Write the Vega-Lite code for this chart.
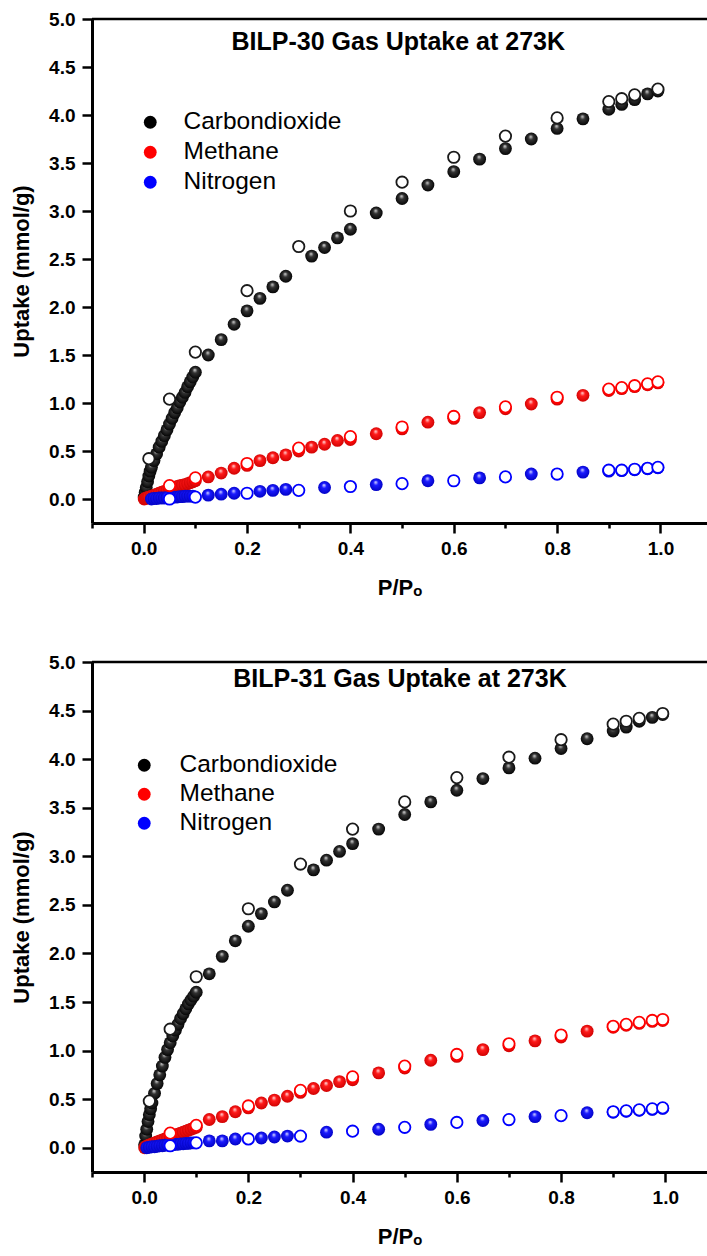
{
  "$schema": "https://vega.github.io/schema/vega-lite/v6.json",
  "background": "white",
  "padding": {"left": 10, "top": 10, "right": 0, "bottom": 0},
  "autosize": {"type": "pad"},
  "config": {
    "view": {"stroke": null},
    "font": "Liberation Sans",
    "axis": {"domainColor": "black", "domainWidth": 3, "tickColor": "black", "tickWidth": 2.5, "labelColor": "black", "labelFont": "Liberation Sans", "labelFontWeight": "bold", "titleFont": "Liberation Sans", "titleFontWeight": "bold", "titleColor": "black", "titleFontSize": 22, "grid": false, "labelFlush": false, "labelOverlap": false},
    "axisX": {"values": [-0.1, 0, 0.1, 0.2, 0.3, 0.4, 0.5, 0.6, 0.7, 0.8, 0.9, 1.0], "labelExpr": "(round(datum.value*10) % 2 == 0 && datum.value >= 0) ? format(datum.value, '.1f') : ''", "tickSize": {"condition": {"test": "round(datum.value*10) % 2 == 0", "value": 10}, "value": 5}, "labelFontSize": 19, "labelPadding": 6, "titlePadding": 19},
    "axisY": {"values": [0, 0.25, 0.5, 0.75, 1, 1.25, 1.5, 1.75, 2, 2.25, 2.5, 2.75, 3, 3.25, 3.5, 3.75, 4, 4.25, 4.5, 4.75, 5], "labelExpr": "round(datum.value*4) % 2 == 0 ? format(datum.value, '.1f') : ''", "tickSize": {"condition": {"test": "round(datum.value*4) % 2 == 0", "value": 10}, "value": 5}, "labelFontSize": 19, "labelPadding": 7, "titlePadding": 15}
  },
  "spacing": 55,
  "resolve": {"scale": {"color": "independent"}},
  "data": {"values": [
    {"s":"BILP-30","g":"Carbondioxide","t":"ads","p":0.001,"u":0.02},
    {"s":"BILP-30","g":"Carbondioxide","t":"ads","p":0.003,"u":0.07},
    {"s":"BILP-30","g":"Carbondioxide","t":"ads","p":0.005,"u":0.12},
    {"s":"BILP-30","g":"Carbondioxide","t":"ads","p":0.0075,"u":0.18},
    {"s":"BILP-30","g":"Carbondioxide","t":"ads","p":0.01,"u":0.24},
    {"s":"BILP-30","g":"Carbondioxide","t":"ads","p":0.0125,"u":0.29},
    {"s":"BILP-30","g":"Carbondioxide","t":"ads","p":0.015,"u":0.33},
    {"s":"BILP-30","g":"Carbondioxide","t":"ads","p":0.02,"u":0.40},
    {"s":"BILP-30","g":"Carbondioxide","t":"ads","p":0.025,"u":0.47},
    {"s":"BILP-30","g":"Carbondioxide","t":"ads","p":0.03,"u":0.54},
    {"s":"BILP-30","g":"Carbondioxide","t":"ads","p":0.035,"u":0.60},
    {"s":"BILP-30","g":"Carbondioxide","t":"ads","p":0.04,"u":0.66},
    {"s":"BILP-30","g":"Carbondioxide","t":"ads","p":0.045,"u":0.72},
    {"s":"BILP-30","g":"Carbondioxide","t":"ads","p":0.05,"u":0.78},
    {"s":"BILP-30","g":"Carbondioxide","t":"ads","p":0.055,"u":0.84},
    {"s":"BILP-30","g":"Carbondioxide","t":"ads","p":0.06,"u":0.90},
    {"s":"BILP-30","g":"Carbondioxide","t":"ads","p":0.065,"u":0.95},
    {"s":"BILP-30","g":"Carbondioxide","t":"ads","p":0.07,"u":1.01},
    {"s":"BILP-30","g":"Carbondioxide","t":"ads","p":0.075,"u":1.06},
    {"s":"BILP-30","g":"Carbondioxide","t":"ads","p":0.08,"u":1.11},
    {"s":"BILP-30","g":"Carbondioxide","t":"ads","p":0.085,"u":1.17},
    {"s":"BILP-30","g":"Carbondioxide","t":"ads","p":0.09,"u":1.22},
    {"s":"BILP-30","g":"Carbondioxide","t":"ads","p":0.095,"u":1.27},
    {"s":"BILP-30","g":"Carbondioxide","t":"ads","p":0.1,"u":1.32},
    {"s":"BILP-30","g":"Carbondioxide","t":"ads","p":0.125,"u":1.50},
    {"s":"BILP-30","g":"Carbondioxide","t":"ads","p":0.15,"u":1.66},
    {"s":"BILP-30","g":"Carbondioxide","t":"ads","p":0.175,"u":1.82},
    {"s":"BILP-30","g":"Carbondioxide","t":"ads","p":0.2,"u":1.96},
    {"s":"BILP-30","g":"Carbondioxide","t":"ads","p":0.225,"u":2.09},
    {"s":"BILP-30","g":"Carbondioxide","t":"ads","p":0.25,"u":2.21},
    {"s":"BILP-30","g":"Carbondioxide","t":"ads","p":0.275,"u":2.32},
    {"s":"BILP-30","g":"Carbondioxide","t":"ads","p":0.325,"u":2.53},
    {"s":"BILP-30","g":"Carbondioxide","t":"ads","p":0.35,"u":2.62},
    {"s":"BILP-30","g":"Carbondioxide","t":"ads","p":0.375,"u":2.72},
    {"s":"BILP-30","g":"Carbondioxide","t":"ads","p":0.4,"u":2.81},
    {"s":"BILP-30","g":"Carbondioxide","t":"ads","p":0.45,"u":2.98},
    {"s":"BILP-30","g":"Carbondioxide","t":"ads","p":0.5,"u":3.13},
    {"s":"BILP-30","g":"Carbondioxide","t":"ads","p":0.55,"u":3.27},
    {"s":"BILP-30","g":"Carbondioxide","t":"ads","p":0.6,"u":3.41},
    {"s":"BILP-30","g":"Carbondioxide","t":"ads","p":0.65,"u":3.54},
    {"s":"BILP-30","g":"Carbondioxide","t":"ads","p":0.7,"u":3.65},
    {"s":"BILP-30","g":"Carbondioxide","t":"ads","p":0.75,"u":3.75},
    {"s":"BILP-30","g":"Carbondioxide","t":"ads","p":0.8,"u":3.86},
    {"s":"BILP-30","g":"Carbondioxide","t":"ads","p":0.85,"u":3.96},
    {"s":"BILP-30","g":"Carbondioxide","t":"ads","p":0.9,"u":4.06},
    {"s":"BILP-30","g":"Carbondioxide","t":"ads","p":0.925,"u":4.11},
    {"s":"BILP-30","g":"Carbondioxide","t":"ads","p":0.95,"u":4.16},
    {"s":"BILP-30","g":"Carbondioxide","t":"ads","p":0.975,"u":4.22},
    {"s":"BILP-30","g":"Carbondioxide","t":"ads","p":0.995,"u":4.25},
    {"s":"BILP-30","g":"Carbondioxide","t":"des","p":0.01,"u":0.42},
    {"s":"BILP-30","g":"Carbondioxide","t":"des","p":0.05,"u":1.04},
    {"s":"BILP-30","g":"Carbondioxide","t":"des","p":0.1,"u":1.53},
    {"s":"BILP-30","g":"Carbondioxide","t":"des","p":0.2,"u":2.17},
    {"s":"BILP-30","g":"Carbondioxide","t":"des","p":0.3,"u":2.63},
    {"s":"BILP-30","g":"Carbondioxide","t":"des","p":0.4,"u":3.00},
    {"s":"BILP-30","g":"Carbondioxide","t":"des","p":0.5,"u":3.30},
    {"s":"BILP-30","g":"Carbondioxide","t":"des","p":0.6,"u":3.56},
    {"s":"BILP-30","g":"Carbondioxide","t":"des","p":0.7,"u":3.78},
    {"s":"BILP-30","g":"Carbondioxide","t":"des","p":0.8,"u":3.97},
    {"s":"BILP-30","g":"Carbondioxide","t":"des","p":0.9,"u":4.14},
    {"s":"BILP-30","g":"Carbondioxide","t":"des","p":0.925,"u":4.17},
    {"s":"BILP-30","g":"Carbondioxide","t":"des","p":0.95,"u":4.21},
    {"s":"BILP-30","g":"Carbondioxide","t":"des","p":0.995,"u":4.27},
    {"s":"BILP-30","g":"Methane","t":"ads","p":0.001,"u":0.0},
    {"s":"BILP-30","g":"Methane","t":"ads","p":0.003,"u":0.005},
    {"s":"BILP-30","g":"Methane","t":"ads","p":0.005,"u":0.01},
    {"s":"BILP-30","g":"Methane","t":"ads","p":0.0075,"u":0.015},
    {"s":"BILP-30","g":"Methane","t":"ads","p":0.01,"u":0.02},
    {"s":"BILP-30","g":"Methane","t":"ads","p":0.015,"u":0.03},
    {"s":"BILP-30","g":"Methane","t":"ads","p":0.02,"u":0.04},
    {"s":"BILP-30","g":"Methane","t":"ads","p":0.025,"u":0.05},
    {"s":"BILP-30","g":"Methane","t":"ads","p":0.03,"u":0.06},
    {"s":"BILP-30","g":"Methane","t":"ads","p":0.035,"u":0.07},
    {"s":"BILP-30","g":"Methane","t":"ads","p":0.04,"u":0.08},
    {"s":"BILP-30","g":"Methane","t":"ads","p":0.045,"u":0.09},
    {"s":"BILP-30","g":"Methane","t":"ads","p":0.05,"u":0.10},
    {"s":"BILP-30","g":"Methane","t":"ads","p":0.055,"u":0.11},
    {"s":"BILP-30","g":"Methane","t":"ads","p":0.06,"u":0.12},
    {"s":"BILP-30","g":"Methane","t":"ads","p":0.065,"u":0.13},
    {"s":"BILP-30","g":"Methane","t":"ads","p":0.07,"u":0.14},
    {"s":"BILP-30","g":"Methane","t":"ads","p":0.075,"u":0.145},
    {"s":"BILP-30","g":"Methane","t":"ads","p":0.08,"u":0.15},
    {"s":"BILP-30","g":"Methane","t":"ads","p":0.085,"u":0.16},
    {"s":"BILP-30","g":"Methane","t":"ads","p":0.09,"u":0.17},
    {"s":"BILP-30","g":"Methane","t":"ads","p":0.095,"u":0.18},
    {"s":"BILP-30","g":"Methane","t":"ads","p":0.1,"u":0.19},
    {"s":"BILP-30","g":"Methane","t":"ads","p":0.125,"u":0.23},
    {"s":"BILP-30","g":"Methane","t":"ads","p":0.15,"u":0.27},
    {"s":"BILP-30","g":"Methane","t":"ads","p":0.175,"u":0.32},
    {"s":"BILP-30","g":"Methane","t":"ads","p":0.2,"u":0.35},
    {"s":"BILP-30","g":"Methane","t":"ads","p":0.225,"u":0.40},
    {"s":"BILP-30","g":"Methane","t":"ads","p":0.25,"u":0.43},
    {"s":"BILP-30","g":"Methane","t":"ads","p":0.275,"u":0.46},
    {"s":"BILP-30","g":"Methane","t":"ads","p":0.3,"u":0.50},
    {"s":"BILP-30","g":"Methane","t":"ads","p":0.325,"u":0.54},
    {"s":"BILP-30","g":"Methane","t":"ads","p":0.35,"u":0.57},
    {"s":"BILP-30","g":"Methane","t":"ads","p":0.375,"u":0.61},
    {"s":"BILP-30","g":"Methane","t":"ads","p":0.4,"u":0.62},
    {"s":"BILP-30","g":"Methane","t":"ads","p":0.45,"u":0.68},
    {"s":"BILP-30","g":"Methane","t":"ads","p":0.5,"u":0.73},
    {"s":"BILP-30","g":"Methane","t":"ads","p":0.55,"u":0.80},
    {"s":"BILP-30","g":"Methane","t":"ads","p":0.6,"u":0.84},
    {"s":"BILP-30","g":"Methane","t":"ads","p":0.65,"u":0.90},
    {"s":"BILP-30","g":"Methane","t":"ads","p":0.7,"u":0.94},
    {"s":"BILP-30","g":"Methane","t":"ads","p":0.75,"u":0.99},
    {"s":"BILP-30","g":"Methane","t":"ads","p":0.8,"u":1.04},
    {"s":"BILP-30","g":"Methane","t":"ads","p":0.85,"u":1.08},
    {"s":"BILP-30","g":"Methane","t":"ads","p":0.9,"u":1.13},
    {"s":"BILP-30","g":"Methane","t":"ads","p":0.925,"u":1.15},
    {"s":"BILP-30","g":"Methane","t":"ads","p":0.95,"u":1.17},
    {"s":"BILP-30","g":"Methane","t":"ads","p":0.975,"u":1.19},
    {"s":"BILP-30","g":"Methane","t":"ads","p":0.995,"u":1.21},
    {"s":"BILP-30","g":"Methane","t":"des","p":0.05,"u":0.14},
    {"s":"BILP-30","g":"Methane","t":"des","p":0.1,"u":0.22},
    {"s":"BILP-30","g":"Methane","t":"des","p":0.2,"u":0.37},
    {"s":"BILP-30","g":"Methane","t":"des","p":0.3,"u":0.53},
    {"s":"BILP-30","g":"Methane","t":"des","p":0.4,"u":0.65},
    {"s":"BILP-30","g":"Methane","t":"des","p":0.5,"u":0.75},
    {"s":"BILP-30","g":"Methane","t":"des","p":0.6,"u":0.86},
    {"s":"BILP-30","g":"Methane","t":"des","p":0.7,"u":0.96},
    {"s":"BILP-30","g":"Methane","t":"des","p":0.8,"u":1.06},
    {"s":"BILP-30","g":"Methane","t":"des","p":0.9,"u":1.145},
    {"s":"BILP-30","g":"Methane","t":"des","p":0.925,"u":1.16},
    {"s":"BILP-30","g":"Methane","t":"des","p":0.95,"u":1.18},
    {"s":"BILP-30","g":"Methane","t":"des","p":0.975,"u":1.20},
    {"s":"BILP-30","g":"Methane","t":"des","p":0.995,"u":1.22},
    {"s":"BILP-30","g":"Nitrogen","t":"ads","p":0.015,"u":0.0},
    {"s":"BILP-30","g":"Nitrogen","t":"ads","p":0.02,"u":0.005},
    {"s":"BILP-30","g":"Nitrogen","t":"ads","p":0.025,"u":0.005},
    {"s":"BILP-30","g":"Nitrogen","t":"ads","p":0.03,"u":0.01},
    {"s":"BILP-30","g":"Nitrogen","t":"ads","p":0.035,"u":0.01},
    {"s":"BILP-30","g":"Nitrogen","t":"ads","p":0.04,"u":0.01},
    {"s":"BILP-30","g":"Nitrogen","t":"ads","p":0.045,"u":0.015},
    {"s":"BILP-30","g":"Nitrogen","t":"ads","p":0.055,"u":0.02},
    {"s":"BILP-30","g":"Nitrogen","t":"ads","p":0.06,"u":0.02},
    {"s":"BILP-30","g":"Nitrogen","t":"ads","p":0.065,"u":0.02},
    {"s":"BILP-30","g":"Nitrogen","t":"ads","p":0.07,"u":0.025},
    {"s":"BILP-30","g":"Nitrogen","t":"ads","p":0.075,"u":0.025},
    {"s":"BILP-30","g":"Nitrogen","t":"ads","p":0.08,"u":0.03},
    {"s":"BILP-30","g":"Nitrogen","t":"ads","p":0.085,"u":0.03},
    {"s":"BILP-30","g":"Nitrogen","t":"ads","p":0.09,"u":0.03},
    {"s":"BILP-30","g":"Nitrogen","t":"ads","p":0.095,"u":0.03},
    {"s":"BILP-30","g":"Nitrogen","t":"ads","p":0.125,"u":0.04},
    {"s":"BILP-30","g":"Nitrogen","t":"ads","p":0.15,"u":0.05},
    {"s":"BILP-30","g":"Nitrogen","t":"ads","p":0.175,"u":0.06},
    {"s":"BILP-30","g":"Nitrogen","t":"ads","p":0.225,"u":0.08},
    {"s":"BILP-30","g":"Nitrogen","t":"ads","p":0.25,"u":0.09},
    {"s":"BILP-30","g":"Nitrogen","t":"ads","p":0.275,"u":0.10},
    {"s":"BILP-30","g":"Nitrogen","t":"ads","p":0.35,"u":0.12},
    {"s":"BILP-30","g":"Nitrogen","t":"ads","p":0.45,"u":0.15},
    {"s":"BILP-30","g":"Nitrogen","t":"ads","p":0.55,"u":0.19},
    {"s":"BILP-30","g":"Nitrogen","t":"ads","p":0.65,"u":0.22},
    {"s":"BILP-30","g":"Nitrogen","t":"ads","p":0.75,"u":0.26},
    {"s":"BILP-30","g":"Nitrogen","t":"ads","p":0.85,"u":0.28},
    {"s":"BILP-30","g":"Nitrogen","t":"ads","p":0.9,"u":0.29},
    {"s":"BILP-30","g":"Nitrogen","t":"ads","p":0.925,"u":0.295},
    {"s":"BILP-30","g":"Nitrogen","t":"ads","p":0.95,"u":0.305},
    {"s":"BILP-30","g":"Nitrogen","t":"ads","p":0.975,"u":0.315},
    {"s":"BILP-30","g":"Nitrogen","t":"ads","p":0.995,"u":0.325},
    {"s":"BILP-30","g":"Nitrogen","t":"des","p":0.05,"u":0.0},
    {"s":"BILP-30","g":"Nitrogen","t":"des","p":0.1,"u":0.02},
    {"s":"BILP-30","g":"Nitrogen","t":"des","p":0.2,"u":0.06},
    {"s":"BILP-30","g":"Nitrogen","t":"des","p":0.3,"u":0.09},
    {"s":"BILP-30","g":"Nitrogen","t":"des","p":0.4,"u":0.13},
    {"s":"BILP-30","g":"Nitrogen","t":"des","p":0.5,"u":0.16},
    {"s":"BILP-30","g":"Nitrogen","t":"des","p":0.6,"u":0.19},
    {"s":"BILP-30","g":"Nitrogen","t":"des","p":0.7,"u":0.23},
    {"s":"BILP-30","g":"Nitrogen","t":"des","p":0.8,"u":0.26},
    {"s":"BILP-30","g":"Nitrogen","t":"des","p":0.9,"u":0.30},
    {"s":"BILP-30","g":"Nitrogen","t":"des","p":0.925,"u":0.30},
    {"s":"BILP-30","g":"Nitrogen","t":"des","p":0.95,"u":0.31},
    {"s":"BILP-30","g":"Nitrogen","t":"des","p":0.975,"u":0.32},
    {"s":"BILP-30","g":"Nitrogen","t":"des","p":0.995,"u":0.33},
    {"s":"BILP-31","g":"Carbondioxide","t":"ads","p":0.001,"u":0.03},
    {"s":"BILP-31","g":"Carbondioxide","t":"ads","p":0.003,"u":0.12},
    {"s":"BILP-31","g":"Carbondioxide","t":"ads","p":0.005,"u":0.19},
    {"s":"BILP-31","g":"Carbondioxide","t":"ads","p":0.0075,"u":0.27},
    {"s":"BILP-31","g":"Carbondioxide","t":"ads","p":0.01,"u":0.34},
    {"s":"BILP-31","g":"Carbondioxide","t":"ads","p":0.0125,"u":0.40},
    {"s":"BILP-31","g":"Carbondioxide","t":"ads","p":0.015,"u":0.46},
    {"s":"BILP-31","g":"Carbondioxide","t":"ads","p":0.02,"u":0.56},
    {"s":"BILP-31","g":"Carbondioxide","t":"ads","p":0.025,"u":0.66},
    {"s":"BILP-31","g":"Carbondioxide","t":"ads","p":0.03,"u":0.75},
    {"s":"BILP-31","g":"Carbondioxide","t":"ads","p":0.035,"u":0.84},
    {"s":"BILP-31","g":"Carbondioxide","t":"ads","p":0.04,"u":0.93},
    {"s":"BILP-31","g":"Carbondioxide","t":"ads","p":0.045,"u":1.01},
    {"s":"BILP-31","g":"Carbondioxide","t":"ads","p":0.05,"u":1.08},
    {"s":"BILP-31","g":"Carbondioxide","t":"ads","p":0.055,"u":1.15},
    {"s":"BILP-31","g":"Carbondioxide","t":"ads","p":0.06,"u":1.21},
    {"s":"BILP-31","g":"Carbondioxide","t":"ads","p":0.065,"u":1.27},
    {"s":"BILP-31","g":"Carbondioxide","t":"ads","p":0.07,"u":1.33},
    {"s":"BILP-31","g":"Carbondioxide","t":"ads","p":0.075,"u":1.38},
    {"s":"BILP-31","g":"Carbondioxide","t":"ads","p":0.08,"u":1.43},
    {"s":"BILP-31","g":"Carbondioxide","t":"ads","p":0.085,"u":1.48},
    {"s":"BILP-31","g":"Carbondioxide","t":"ads","p":0.09,"u":1.52},
    {"s":"BILP-31","g":"Carbondioxide","t":"ads","p":0.095,"u":1.56},
    {"s":"BILP-31","g":"Carbondioxide","t":"ads","p":0.1,"u":1.60},
    {"s":"BILP-31","g":"Carbondioxide","t":"ads","p":0.125,"u":1.79},
    {"s":"BILP-31","g":"Carbondioxide","t":"ads","p":0.15,"u":1.97},
    {"s":"BILP-31","g":"Carbondioxide","t":"ads","p":0.175,"u":2.13},
    {"s":"BILP-31","g":"Carbondioxide","t":"ads","p":0.2,"u":2.28},
    {"s":"BILP-31","g":"Carbondioxide","t":"ads","p":0.225,"u":2.41},
    {"s":"BILP-31","g":"Carbondioxide","t":"ads","p":0.25,"u":2.53},
    {"s":"BILP-31","g":"Carbondioxide","t":"ads","p":0.275,"u":2.65},
    {"s":"BILP-31","g":"Carbondioxide","t":"ads","p":0.325,"u":2.86},
    {"s":"BILP-31","g":"Carbondioxide","t":"ads","p":0.35,"u":2.96},
    {"s":"BILP-31","g":"Carbondioxide","t":"ads","p":0.375,"u":3.05},
    {"s":"BILP-31","g":"Carbondioxide","t":"ads","p":0.4,"u":3.13},
    {"s":"BILP-31","g":"Carbondioxide","t":"ads","p":0.45,"u":3.28},
    {"s":"BILP-31","g":"Carbondioxide","t":"ads","p":0.5,"u":3.43},
    {"s":"BILP-31","g":"Carbondioxide","t":"ads","p":0.55,"u":3.56},
    {"s":"BILP-31","g":"Carbondioxide","t":"ads","p":0.6,"u":3.68},
    {"s":"BILP-31","g":"Carbondioxide","t":"ads","p":0.65,"u":3.80},
    {"s":"BILP-31","g":"Carbondioxide","t":"ads","p":0.7,"u":3.91},
    {"s":"BILP-31","g":"Carbondioxide","t":"ads","p":0.75,"u":4.01},
    {"s":"BILP-31","g":"Carbondioxide","t":"ads","p":0.8,"u":4.11},
    {"s":"BILP-31","g":"Carbondioxide","t":"ads","p":0.85,"u":4.21},
    {"s":"BILP-31","g":"Carbondioxide","t":"ads","p":0.9,"u":4.29},
    {"s":"BILP-31","g":"Carbondioxide","t":"ads","p":0.925,"u":4.33},
    {"s":"BILP-31","g":"Carbondioxide","t":"ads","p":0.95,"u":4.39},
    {"s":"BILP-31","g":"Carbondioxide","t":"ads","p":0.975,"u":4.43},
    {"s":"BILP-31","g":"Carbondioxide","t":"ads","p":0.995,"u":4.46},
    {"s":"BILP-31","g":"Carbondioxide","t":"des","p":0.01,"u":0.48},
    {"s":"BILP-31","g":"Carbondioxide","t":"des","p":0.05,"u":1.22},
    {"s":"BILP-31","g":"Carbondioxide","t":"des","p":0.1,"u":1.76},
    {"s":"BILP-31","g":"Carbondioxide","t":"des","p":0.2,"u":2.46},
    {"s":"BILP-31","g":"Carbondioxide","t":"des","p":0.3,"u":2.92},
    {"s":"BILP-31","g":"Carbondioxide","t":"des","p":0.4,"u":3.28},
    {"s":"BILP-31","g":"Carbondioxide","t":"des","p":0.5,"u":3.56},
    {"s":"BILP-31","g":"Carbondioxide","t":"des","p":0.6,"u":3.81},
    {"s":"BILP-31","g":"Carbondioxide","t":"des","p":0.7,"u":4.02},
    {"s":"BILP-31","g":"Carbondioxide","t":"des","p":0.8,"u":4.20},
    {"s":"BILP-31","g":"Carbondioxide","t":"des","p":0.9,"u":4.36},
    {"s":"BILP-31","g":"Carbondioxide","t":"des","p":0.925,"u":4.39},
    {"s":"BILP-31","g":"Carbondioxide","t":"des","p":0.95,"u":4.42},
    {"s":"BILP-31","g":"Carbondioxide","t":"des","p":0.995,"u":4.47},
    {"s":"BILP-31","g":"Methane","t":"ads","p":0.001,"u":0.0},
    {"s":"BILP-31","g":"Methane","t":"ads","p":0.003,"u":0.01},
    {"s":"BILP-31","g":"Methane","t":"ads","p":0.005,"u":0.015},
    {"s":"BILP-31","g":"Methane","t":"ads","p":0.0075,"u":0.02},
    {"s":"BILP-31","g":"Methane","t":"ads","p":0.01,"u":0.03},
    {"s":"BILP-31","g":"Methane","t":"ads","p":0.015,"u":0.04},
    {"s":"BILP-31","g":"Methane","t":"ads","p":0.02,"u":0.05},
    {"s":"BILP-31","g":"Methane","t":"ads","p":0.025,"u":0.06},
    {"s":"BILP-31","g":"Methane","t":"ads","p":0.03,"u":0.07},
    {"s":"BILP-31","g":"Methane","t":"ads","p":0.035,"u":0.08},
    {"s":"BILP-31","g":"Methane","t":"ads","p":0.04,"u":0.09},
    {"s":"BILP-31","g":"Methane","t":"ads","p":0.045,"u":0.10},
    {"s":"BILP-31","g":"Methane","t":"ads","p":0.05,"u":0.11},
    {"s":"BILP-31","g":"Methane","t":"ads","p":0.055,"u":0.12},
    {"s":"BILP-31","g":"Methane","t":"ads","p":0.06,"u":0.13},
    {"s":"BILP-31","g":"Methane","t":"ads","p":0.065,"u":0.14},
    {"s":"BILP-31","g":"Methane","t":"ads","p":0.07,"u":0.15},
    {"s":"BILP-31","g":"Methane","t":"ads","p":0.075,"u":0.16},
    {"s":"BILP-31","g":"Methane","t":"ads","p":0.08,"u":0.17},
    {"s":"BILP-31","g":"Methane","t":"ads","p":0.085,"u":0.18},
    {"s":"BILP-31","g":"Methane","t":"ads","p":0.09,"u":0.19},
    {"s":"BILP-31","g":"Methane","t":"ads","p":0.095,"u":0.20},
    {"s":"BILP-31","g":"Methane","t":"ads","p":0.1,"u":0.21},
    {"s":"BILP-31","g":"Methane","t":"ads","p":0.125,"u":0.29},
    {"s":"BILP-31","g":"Methane","t":"ads","p":0.15,"u":0.32},
    {"s":"BILP-31","g":"Methane","t":"ads","p":0.175,"u":0.37},
    {"s":"BILP-31","g":"Methane","t":"ads","p":0.2,"u":0.41},
    {"s":"BILP-31","g":"Methane","t":"ads","p":0.225,"u":0.46},
    {"s":"BILP-31","g":"Methane","t":"ads","p":0.25,"u":0.49},
    {"s":"BILP-31","g":"Methane","t":"ads","p":0.275,"u":0.53},
    {"s":"BILP-31","g":"Methane","t":"ads","p":0.3,"u":0.57},
    {"s":"BILP-31","g":"Methane","t":"ads","p":0.325,"u":0.61},
    {"s":"BILP-31","g":"Methane","t":"ads","p":0.35,"u":0.64},
    {"s":"BILP-31","g":"Methane","t":"ads","p":0.375,"u":0.68},
    {"s":"BILP-31","g":"Methane","t":"ads","p":0.4,"u":0.70},
    {"s":"BILP-31","g":"Methane","t":"ads","p":0.45,"u":0.77},
    {"s":"BILP-31","g":"Methane","t":"ads","p":0.5,"u":0.82},
    {"s":"BILP-31","g":"Methane","t":"ads","p":0.55,"u":0.90},
    {"s":"BILP-31","g":"Methane","t":"ads","p":0.6,"u":0.94},
    {"s":"BILP-31","g":"Methane","t":"ads","p":0.65,"u":1.01},
    {"s":"BILP-31","g":"Methane","t":"ads","p":0.7,"u":1.05},
    {"s":"BILP-31","g":"Methane","t":"ads","p":0.75,"u":1.10},
    {"s":"BILP-31","g":"Methane","t":"ads","p":0.8,"u":1.14},
    {"s":"BILP-31","g":"Methane","t":"ads","p":0.85,"u":1.20},
    {"s":"BILP-31","g":"Methane","t":"ads","p":0.9,"u":1.24},
    {"s":"BILP-31","g":"Methane","t":"ads","p":0.925,"u":1.26},
    {"s":"BILP-31","g":"Methane","t":"ads","p":0.95,"u":1.28},
    {"s":"BILP-31","g":"Methane","t":"ads","p":0.975,"u":1.30},
    {"s":"BILP-31","g":"Methane","t":"ads","p":0.995,"u":1.31},
    {"s":"BILP-31","g":"Methane","t":"des","p":0.05,"u":0.15},
    {"s":"BILP-31","g":"Methane","t":"des","p":0.1,"u":0.23},
    {"s":"BILP-31","g":"Methane","t":"des","p":0.2,"u":0.43},
    {"s":"BILP-31","g":"Methane","t":"des","p":0.3,"u":0.59},
    {"s":"BILP-31","g":"Methane","t":"des","p":0.4,"u":0.73},
    {"s":"BILP-31","g":"Methane","t":"des","p":0.5,"u":0.84},
    {"s":"BILP-31","g":"Methane","t":"des","p":0.6,"u":0.96},
    {"s":"BILP-31","g":"Methane","t":"des","p":0.7,"u":1.07},
    {"s":"BILP-31","g":"Methane","t":"des","p":0.8,"u":1.16},
    {"s":"BILP-31","g":"Methane","t":"des","p":0.9,"u":1.25},
    {"s":"BILP-31","g":"Methane","t":"des","p":0.925,"u":1.27},
    {"s":"BILP-31","g":"Methane","t":"des","p":0.95,"u":1.29},
    {"s":"BILP-31","g":"Methane","t":"des","p":0.975,"u":1.31},
    {"s":"BILP-31","g":"Methane","t":"des","p":0.995,"u":1.32},
    {"s":"BILP-31","g":"Nitrogen","t":"ads","p":0.005,"u":0.0},
    {"s":"BILP-31","g":"Nitrogen","t":"ads","p":0.01,"u":0.005},
    {"s":"BILP-31","g":"Nitrogen","t":"ads","p":0.015,"u":0.01},
    {"s":"BILP-31","g":"Nitrogen","t":"ads","p":0.02,"u":0.01},
    {"s":"BILP-31","g":"Nitrogen","t":"ads","p":0.025,"u":0.015},
    {"s":"BILP-31","g":"Nitrogen","t":"ads","p":0.03,"u":0.02},
    {"s":"BILP-31","g":"Nitrogen","t":"ads","p":0.035,"u":0.02},
    {"s":"BILP-31","g":"Nitrogen","t":"ads","p":0.04,"u":0.025},
    {"s":"BILP-31","g":"Nitrogen","t":"ads","p":0.045,"u":0.03},
    {"s":"BILP-31","g":"Nitrogen","t":"ads","p":0.055,"u":0.03},
    {"s":"BILP-31","g":"Nitrogen","t":"ads","p":0.06,"u":0.035},
    {"s":"BILP-31","g":"Nitrogen","t":"ads","p":0.065,"u":0.035},
    {"s":"BILP-31","g":"Nitrogen","t":"ads","p":0.07,"u":0.04},
    {"s":"BILP-31","g":"Nitrogen","t":"ads","p":0.075,"u":0.04},
    {"s":"BILP-31","g":"Nitrogen","t":"ads","p":0.08,"u":0.045},
    {"s":"BILP-31","g":"Nitrogen","t":"ads","p":0.085,"u":0.045},
    {"s":"BILP-31","g":"Nitrogen","t":"ads","p":0.09,"u":0.05},
    {"s":"BILP-31","g":"Nitrogen","t":"ads","p":0.095,"u":0.05},
    {"s":"BILP-31","g":"Nitrogen","t":"ads","p":0.125,"u":0.07},
    {"s":"BILP-31","g":"Nitrogen","t":"ads","p":0.15,"u":0.07},
    {"s":"BILP-31","g":"Nitrogen","t":"ads","p":0.175,"u":0.09},
    {"s":"BILP-31","g":"Nitrogen","t":"ads","p":0.225,"u":0.10},
    {"s":"BILP-31","g":"Nitrogen","t":"ads","p":0.25,"u":0.11},
    {"s":"BILP-31","g":"Nitrogen","t":"ads","p":0.275,"u":0.12},
    {"s":"BILP-31","g":"Nitrogen","t":"ads","p":0.35,"u":0.16},
    {"s":"BILP-31","g":"Nitrogen","t":"ads","p":0.45,"u":0.19},
    {"s":"BILP-31","g":"Nitrogen","t":"ads","p":0.55,"u":0.24},
    {"s":"BILP-31","g":"Nitrogen","t":"ads","p":0.65,"u":0.28},
    {"s":"BILP-31","g":"Nitrogen","t":"ads","p":0.75,"u":0.32},
    {"s":"BILP-31","g":"Nitrogen","t":"ads","p":0.85,"u":0.36},
    {"s":"BILP-31","g":"Nitrogen","t":"ads","p":0.9,"u":0.365},
    {"s":"BILP-31","g":"Nitrogen","t":"ads","p":0.925,"u":0.375},
    {"s":"BILP-31","g":"Nitrogen","t":"ads","p":0.95,"u":0.385},
    {"s":"BILP-31","g":"Nitrogen","t":"ads","p":0.975,"u":0.395},
    {"s":"BILP-31","g":"Nitrogen","t":"ads","p":0.995,"u":0.405},
    {"s":"BILP-31","g":"Nitrogen","t":"des","p":0.05,"u":0.02},
    {"s":"BILP-31","g":"Nitrogen","t":"des","p":0.1,"u":0.05},
    {"s":"BILP-31","g":"Nitrogen","t":"des","p":0.2,"u":0.09},
    {"s":"BILP-31","g":"Nitrogen","t":"des","p":0.3,"u":0.12},
    {"s":"BILP-31","g":"Nitrogen","t":"des","p":0.4,"u":0.17},
    {"s":"BILP-31","g":"Nitrogen","t":"des","p":0.5,"u":0.21},
    {"s":"BILP-31","g":"Nitrogen","t":"des","p":0.6,"u":0.26},
    {"s":"BILP-31","g":"Nitrogen","t":"des","p":0.7,"u":0.29},
    {"s":"BILP-31","g":"Nitrogen","t":"des","p":0.8,"u":0.33},
    {"s":"BILP-31","g":"Nitrogen","t":"des","p":0.9,"u":0.37},
    {"s":"BILP-31","g":"Nitrogen","t":"des","p":0.925,"u":0.38},
    {"s":"BILP-31","g":"Nitrogen","t":"des","p":0.95,"u":0.39},
    {"s":"BILP-31","g":"Nitrogen","t":"des","p":0.975,"u":0.40},
    {"s":"BILP-31","g":"Nitrogen","t":"des","p":0.995,"u":0.41}
  ]},
  "vconcat": [
    {
      "width": 615, "height": 504,
      "transform": [{"filter": "datum.s == 'BILP-30'"}],
      "layer": [
        {"transform": [{"filter": "datum.t == 'ads'"}],
         "mark": {"type": "point", "filled": true, "opacity": 0, "size": 165},
         "encoding": {
           "x": {"field": "p", "type": "quantitative", "title": "P/Pₒ", "scale": {"domain": [-0.1, 1.09], "nice": false, "zero": false}},
           "y": {"field": "u", "type": "quantitative", "title": "Uptake (mmol/g)", "scale": {"domain": [-0.25, 5], "nice": false, "zero": false}},
           "color": {"field": "g", "type": "nominal", "scale": {"domain": ["Carbondioxide", "Methane", "Nitrogen"], "range": ["#000000", "#ff0000", "#0000ff"]},
                     "legend": {"title": null, "orient": "none", "legendX": 46, "legendY": 91, "labelFont": "Liberation Sans", "labelFontSize": 24.5, "labelColor": "black", "symbolType": "circle", "symbolSize": 165, "symbolOpacity": 1, "symbolStrokeWidth": 0, "rowPadding": 5, "labelOffset": 21, "padding": 0,
                                "encode": {"symbols": {"update": {"fill": {"signal": "{gradient: 'radial', x1: 0.45, y1: 0.3, r1: 0, x2: 0.5, y2: 0.5, r2: 0.55, stops: [{offset: 0, color: datum.value == 'Carbondioxide' ? '#dddddd' : datum.value == 'Methane' ? '#ffe6e6' : '#e6e6ff'}, {offset: 0.35, color: datum.value == 'Carbondioxide' ? '#333333' : datum.value == 'Methane' ? '#ff1a1a' : '#1a1aff'}, {offset: 1, color: datum.value == 'Carbondioxide' ? '#000000' : datum.value == 'Methane' ? '#cc0000' : '#0000c0'}]}"}}}}}}
         }},
        {"data": {"values": [{"k": 1}]},
         "mark": {"type": "rule", "strokeWidth": 2.5, "color": "black"},
         "encoding": {"y": {"datum": 5, "type": "quantitative", "title": "Uptake (mmol/g)"}}},
        {"data": {"values": [{"k": 1}]},
         "mark": {"type": "text", "font": "Liberation Sans", "fontWeight": "bold", "fontSize": 25, "align": "left", "baseline": "alphabetic", "color": "black"},
         "encoding": {"x": {"datum": 0.17, "type": "quantitative", "title": "P/Pₒ"}, "y": {"datum": 4.68, "type": "quantitative", "title": "Uptake (mmol/g)"}, "text": {"value": "BILP-30 Gas Uptake at 273K"}}},
        {"transform": [{"filter": "datum.t == 'ads' && datum.g == 'Carbondioxide'"}],
         "mark": {"type": "point", "filled": true, "opacity": 1, "size": 165, "fill": {"gradient": "radial", "x1": 0.45, "y1": 0.3, "r1": 0, "x2": 0.5, "y2": 0.5, "r2": 0.55, "stops": [{"offset": 0, "color": "#dddddd"}, {"offset": 0.35, "color": "#333333"}, {"offset": 1, "color": "#000000"}]}},
         "encoding": {"x": {"field": "p", "type": "quantitative", "title": "P/Pₒ"}, "y": {"field": "u", "type": "quantitative", "title": "Uptake (mmol/g)"}}},
        {"transform": [{"filter": "datum.t == 'ads' && datum.g == 'Methane'"}],
         "mark": {"type": "point", "filled": true, "opacity": 1, "size": 165, "fill": {"gradient": "radial", "x1": 0.45, "y1": 0.3, "r1": 0, "x2": 0.5, "y2": 0.5, "r2": 0.55, "stops": [{"offset": 0, "color": "#ffe6e6"}, {"offset": 0.35, "color": "#ff1a1a"}, {"offset": 1, "color": "#cc0000"}]}},
         "encoding": {"x": {"field": "p", "type": "quantitative", "title": "P/Pₒ"}, "y": {"field": "u", "type": "quantitative", "title": "Uptake (mmol/g)"}}},
        {"transform": [{"filter": "datum.t == 'ads' && datum.g == 'Nitrogen'"}],
         "mark": {"type": "point", "filled": true, "opacity": 1, "size": 165, "fill": {"gradient": "radial", "x1": 0.45, "y1": 0.3, "r1": 0, "x2": 0.5, "y2": 0.5, "r2": 0.55, "stops": [{"offset": 0, "color": "#e6e6ff"}, {"offset": 0.35, "color": "#1a1aff"}, {"offset": 1, "color": "#0000c0"}]}},
         "encoding": {"x": {"field": "p", "type": "quantitative", "title": "P/Pₒ"}, "y": {"field": "u", "type": "quantitative", "title": "Uptake (mmol/g)"}}},
        {"transform": [{"filter": "datum.t == 'des'"}],
         "mark": {"type": "point", "filled": true, "fill": "white", "opacity": 1, "strokeWidth": 1.8, "size": 130},
         "encoding": {"x": {"field": "p", "type": "quantitative", "title": "P/Pₒ"}, "y": {"field": "u", "type": "quantitative", "title": "Uptake (mmol/g)"},
                      "stroke": {"field": "g", "type": "nominal", "scale": {"domain": ["Carbondioxide", "Methane", "Nitrogen"], "range": ["#1a1a1a", "#ff0000", "#0000ff"]}, "legend": null}}}
      ]
    },
    {
      "width": 615, "height": 510,
      "transform": [{"filter": "datum.s == 'BILP-31'"}],
      "layer": [
        {"transform": [{"filter": "datum.t == 'ads'"}],
         "mark": {"type": "point", "filled": true, "opacity": 0, "size": 165},
         "encoding": {
           "x": {"field": "p", "type": "quantitative", "title": "P/Pₒ", "scale": {"domain": [-0.1, 1.08], "nice": false, "zero": false}},
           "y": {"field": "u", "type": "quantitative", "title": "Uptake (mmol/g)", "scale": {"domain": [-0.25, 5], "nice": false, "zero": false}},
           "color": {"field": "g", "type": "nominal", "scale": {"domain": ["Carbondioxide", "Methane", "Nitrogen"], "range": ["#000000", "#ff0000", "#0000ff"]},
                     "legend": {"title": null, "orient": "none", "legendX": 40, "legendY": 91, "labelFont": "Liberation Sans", "labelFontSize": 24.5, "labelColor": "black", "symbolType": "circle", "symbolSize": 165, "symbolOpacity": 1, "symbolStrokeWidth": 0, "rowPadding": 4, "labelOffset": 23, "padding": 0,
                                "encode": {"symbols": {"update": {"fill": {"signal": "{gradient: 'radial', x1: 0.45, y1: 0.3, r1: 0, x2: 0.5, y2: 0.5, r2: 0.55, stops: [{offset: 0, color: datum.value == 'Carbondioxide' ? '#dddddd' : datum.value == 'Methane' ? '#ffe6e6' : '#e6e6ff'}, {offset: 0.35, color: datum.value == 'Carbondioxide' ? '#333333' : datum.value == 'Methane' ? '#ff1a1a' : '#1a1aff'}, {offset: 1, color: datum.value == 'Carbondioxide' ? '#000000' : datum.value == 'Methane' ? '#cc0000' : '#0000c0'}]}"}}}}}}
         }},
        {"data": {"values": [{"k": 1}]},
         "mark": {"type": "rule", "strokeWidth": 2.5, "color": "black"},
         "encoding": {"y": {"datum": 5, "type": "quantitative", "title": "Uptake (mmol/g)"}}},
        {"data": {"values": [{"k": 1}]},
         "mark": {"type": "text", "font": "Liberation Sans", "fontWeight": "bold", "fontSize": 25, "align": "left", "baseline": "alphabetic", "color": "black"},
         "encoding": {"x": {"datum": 0.171, "type": "quantitative", "title": "P/Pₒ"}, "y": {"datum": 4.746, "type": "quantitative", "title": "Uptake (mmol/g)"}, "text": {"value": "BILP-31 Gas Uptake at 273K"}}},
        {"transform": [{"filter": "datum.t == 'ads' && datum.g == 'Carbondioxide'"}],
         "mark": {"type": "point", "filled": true, "opacity": 1, "size": 165, "fill": {"gradient": "radial", "x1": 0.45, "y1": 0.3, "r1": 0, "x2": 0.5, "y2": 0.5, "r2": 0.55, "stops": [{"offset": 0, "color": "#dddddd"}, {"offset": 0.35, "color": "#333333"}, {"offset": 1, "color": "#000000"}]}},
         "encoding": {"x": {"field": "p", "type": "quantitative", "title": "P/Pₒ"}, "y": {"field": "u", "type": "quantitative", "title": "Uptake (mmol/g)"}}},
        {"transform": [{"filter": "datum.t == 'ads' && datum.g == 'Methane'"}],
         "mark": {"type": "point", "filled": true, "opacity": 1, "size": 165, "fill": {"gradient": "radial", "x1": 0.45, "y1": 0.3, "r1": 0, "x2": 0.5, "y2": 0.5, "r2": 0.55, "stops": [{"offset": 0, "color": "#ffe6e6"}, {"offset": 0.35, "color": "#ff1a1a"}, {"offset": 1, "color": "#cc0000"}]}},
         "encoding": {"x": {"field": "p", "type": "quantitative", "title": "P/Pₒ"}, "y": {"field": "u", "type": "quantitative", "title": "Uptake (mmol/g)"}}},
        {"transform": [{"filter": "datum.t == 'ads' && datum.g == 'Nitrogen'"}],
         "mark": {"type": "point", "filled": true, "opacity": 1, "size": 165, "fill": {"gradient": "radial", "x1": 0.45, "y1": 0.3, "r1": 0, "x2": 0.5, "y2": 0.5, "r2": 0.55, "stops": [{"offset": 0, "color": "#e6e6ff"}, {"offset": 0.35, "color": "#1a1aff"}, {"offset": 1, "color": "#0000c0"}]}},
         "encoding": {"x": {"field": "p", "type": "quantitative", "title": "P/Pₒ"}, "y": {"field": "u", "type": "quantitative", "title": "Uptake (mmol/g)"}}},
        {"transform": [{"filter": "datum.t == 'des'"}],
         "mark": {"type": "point", "filled": true, "fill": "white", "opacity": 1, "strokeWidth": 1.8, "size": 130},
         "encoding": {"x": {"field": "p", "type": "quantitative", "title": "P/Pₒ"}, "y": {"field": "u", "type": "quantitative", "title": "Uptake (mmol/g)"},
                      "stroke": {"field": "g", "type": "nominal", "scale": {"domain": ["Carbondioxide", "Methane", "Nitrogen"], "range": ["#1a1a1a", "#ff0000", "#0000ff"]}, "legend": null}}}
      ]
    }
  ]
}
